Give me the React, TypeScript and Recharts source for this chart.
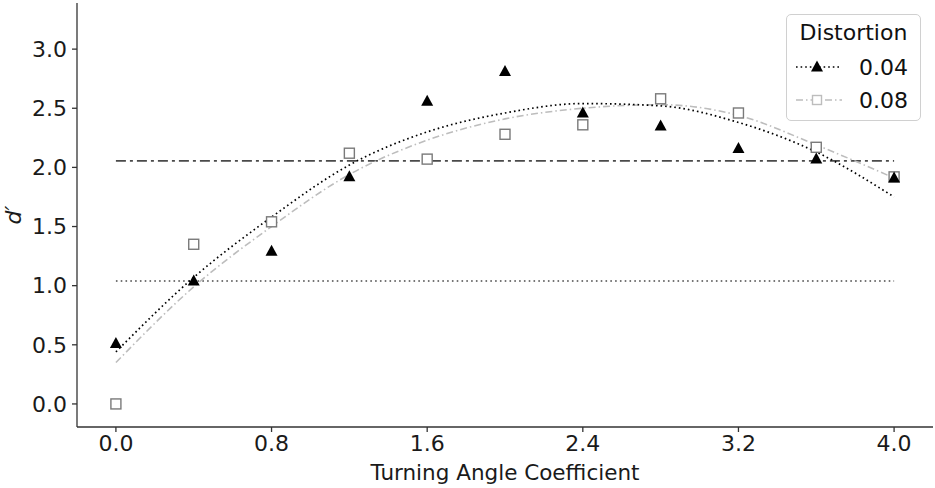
import React from 'react';
import {
    ComposedChart,
    Line,
    Scatter,
    XAxis,
    YAxis,
} from 'recharts';

const FONT = '"DejaVu Sans", Verdana, sans-serif';

// measured points (Turning Angle Coefficient vs d')
const xValues = [0.0, 0.4, 0.8, 1.2, 1.6, 2.0, 2.4, 2.8, 3.2, 3.6, 4.0];
const dPrime004 = [0.51, 1.04, 1.29, 1.92, 2.56, 2.81, 2.46, 2.35, 2.16, 2.07, 1.91];
const dPrime008 = [0.0, 1.35, 1.54, 2.12, 2.07, 2.28, 2.36, 2.58, 2.46, 2.17, 1.92];

// fitted curves
const fit004 = [0.44, 1.07, 1.58, 2.02, 2.3, 2.46, 2.54, 2.52, 2.38, 2.13, 1.75];
const fit008 = [0.35, 0.99, 1.5, 1.94, 2.23, 2.41, 2.5, 2.53, 2.44, 2.19, 1.91];

// horizontal reference levels
const upperLevel = 2.055;
const lowerLevel = 1.04;
const levelSpan = [0.0, 4.0];

const xTicks = [0.0, 0.8, 1.6, 2.4, 3.2, 4.0];
const yTicks = [0.0, 0.5, 1.0, 1.5, 2.0, 2.5, 3.0];

const points004 = xValues.map((x, i) => ({ x, y: dPrime004[i] }));
const points008 = xValues.map((x, i) => ({ x, y: dPrime008[i] }));
const curve004 = xValues.map((x, i) => ({ x, y: fit004[i] }));
const curve008 = xValues.map((x, i) => ({ x, y: fit008[i] }));
const upperLine = levelSpan.map((x) => ({ x, y: upperLevel }));
const lowerLine = levelSpan.map((x) => ({ x, y: lowerLevel }));

const Triangle = (props: any) => {
    const { cx, cy } = props;
    if (cx == null || cy == null) return null;
    return (
        <path
            d={`M${cx},${cy - 6.5} L${cx + 6},${cy + 4.5} L${cx - 6},${cy + 4.5} Z`}
            fill="#000"
        />
    );
};

const Square = (props: any) => {
    const { cx, cy } = props;
    if (cx == null || cy == null) return null;
    return (
        <rect x={cx - 5} y={cy - 5} width={10} height={10} fill="#fff" stroke="#7a7a7a" strokeWidth={1.4} />
    );
};

const YLabel = (props: any) => {
    const { viewBox } = props;
    const cy = viewBox.y + viewBox.height / 2;
    return (
        <text
            x={21}
            y={cy}
            transform={`rotate(-90, 21, ${cy})`}
            textAnchor="middle"
            style={{ fontFamily: FONT, fontSize: 22, fontStyle: 'italic', fill: '#1a1a1a' }}
        >
            d′
        </text>
    );
};

const LegendBox = () => (
    <div
        style={{
            position: 'absolute',
            left: 786,
            top: 14,
            width: 133,
            height: 105,
            border: '1px solid #d0d0d0',
            borderRadius: 5,
            background: '#fff',
            boxSizing: 'content-box',
            fontFamily: FONT,
            fontSize: 22,
            color: '#111',
        }}
    >
        <div style={{ position: 'absolute', left: 0, right: 0, top: 5, textAlign: 'center' }}>Distortion</div>
        <div style={{ position: 'absolute', left: 8, top: 38, display: 'flex', alignItems: 'center', height: 28 }}>
            <svg width={48} height={16}>
                <line x1={1} y1={8} x2={47} y2={8} stroke="#000" strokeWidth={1.7} strokeDasharray="1.6 3" />
                <path d="M22,1.5 L28,12.5 L16,12.5 Z" fill="#000" />
            </svg>
            <span style={{ marginLeft: 16 }}>0.04</span>
        </div>
        <div style={{ position: 'absolute', left: 8, top: 71, display: 'flex', alignItems: 'center', height: 28 }}>
            <svg width={48} height={16}>
                <line x1={1} y1={8} x2={47} y2={8} stroke="#bdbdbd" strokeWidth={1.6} strokeDasharray="7 3 1.5 3" />
                <rect x={17.5} y={3.5} width={9} height={9} fill="#fff" stroke="#bdbdbd" strokeWidth={1.4} />
            </svg>
            <span style={{ marginLeft: 16 }}>0.08</span>
        </div>
    </div>
);

const tickStyle = { fontFamily: FONT, fontSize: 22, fill: '#1a1a1a' };

export default function App() {
    return (
        <div style={{ position: 'fixed', left: 0, top: 0, width: 935, height: 488, background: '#fff' }}>
            <ComposedChart
                width={935}
                height={488}
                margin={{ top: 3, right: 2, left: 0, bottom: 0 }}
            >
                <XAxis
                    type="number"
                    dataKey="x"
                    domain={[-0.2, 4.2]}
                    ticks={xTicks}
                    tickFormatter={(v: number) => v.toFixed(1)}
                    tick={tickStyle}
                    tickSize={5}
                    tickMargin={3}
                    stroke="#333"
                    strokeWidth={1.3}
                    height={61}
                    allowDataOverflow
                    label={{
                        value: 'Turning Angle Coefficient',
                        position: 'insideBottom',
                        offset: 8,
                        style: { fontFamily: FONT, fontSize: 21.5, fill: '#1a1a1a' },
                    }}
                />
                <YAxis
                    type="number"
                    dataKey="y"
                    domain={[-0.195, 3.39]}
                    ticks={yTicks}
                    tickFormatter={(v: number) => v.toFixed(1)}
                    tick={tickStyle}
                    tickSize={5}
                    tickMargin={5}
                    stroke="#333"
                    strokeWidth={1.3}
                    width={77}
                    allowDataOverflow
                    label={<YLabel />}
                />
                <Line
                    data={upperLine}
                    dataKey="y"
                    stroke="#4a4a4a"
                    strokeWidth={1.6}
                    strokeDasharray="10 4 3 4"
                    dot={false}
                    isAnimationActive={false}
                    legendType="none"
                />
                <Line
                    data={lowerLine}
                    dataKey="y"
                    stroke="#4a4a4a"
                    strokeWidth={1.6}
                    strokeDasharray="1.6 3.2"
                    dot={false}
                    isAnimationActive={false}
                    legendType="none"
                />
                <Line
                    data={curve008}
                    dataKey="y"
                    type="monotone"
                    stroke="#bdbdbd"
                    strokeWidth={1.6}
                    strokeDasharray="7 3 1.5 3"
                    dot={false}
                    isAnimationActive={false}
                    name="0.08"
                />
                <Line
                    data={curve004}
                    dataKey="y"
                    type="monotone"
                    stroke="#000"
                    strokeWidth={1.7}
                    strokeDasharray="1.6 3"
                    dot={false}
                    isAnimationActive={false}
                    name="0.04"
                />
                <Scatter data={points008} dataKey="y" shape={<Square />} isAnimationActive={false} />
                <Scatter data={points004} dataKey="y" shape={<Triangle />} isAnimationActive={false} />
            </ComposedChart>
            <LegendBox />
        </div>
    );
}
